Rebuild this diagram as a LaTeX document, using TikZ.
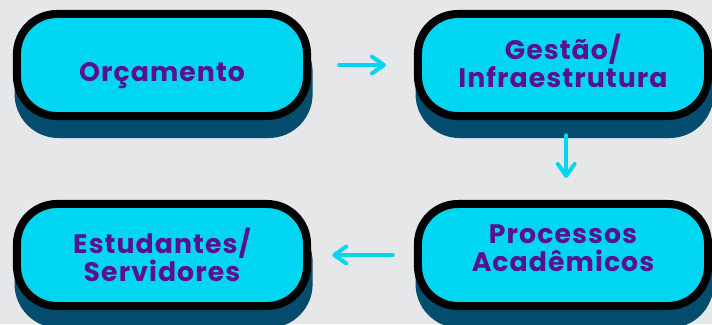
\documentclass[tikz,border=0pt]{standalone}
\usepackage{fontspec}
\newfontfamily\pillfont{Poppins}[LetterSpace=4]
\usepackage{tikz}
\usetikzlibrary{arrows.meta,shadows,calc}

\definecolor{bggray}{HTML}{E6E7E9}
\definecolor{pillcyan}{HTML}{00D6F1}
\definecolor{pillshadow}{HTML}{044D6E}
\definecolor{pilltext}{HTML}{5A118E}

\begin{document}
\begin{tikzpicture}[x=0.025cm,y=-0.025cm,
        pill/.style={draw=black, line width=0.2cm, fill=pillcyan, rounded corners=1cm,
            minimum width=7.25cm, minimum height=2.55cm,
            drop shadow={shadow xshift=0.04cm, shadow yshift=-0.45cm, fill=pillshadow,
                draw=pillshadow, line width=0.2cm, opacity=1}},
        pilltxt/.style={align=center, text=pilltext, inner sep=0pt,
            font=\pillfont\bfseries\fontsize{19pt}{20pt}\selectfont},
        flow/.style={draw=pillcyan, line width=0.1cm, line cap=round,
            -{Straight Barb[round, length=0.3cm, width=0.42cm]}}]

        \fill[bggray] (0,0) rectangle (712,324);
        \useasboundingbox (0,0) rectangle (712,324);

        \node[pill, label={[pilltxt, yshift=-0.27cm]center:Orçamento}] (orc) at (162,65) {};
        \node[pill, label={[pilltxt, yshift=0.1cm]center:Gestão/\\Infraestrutura}] (ges) at (563,65) {};
        \node[pill, label={[pilltxt, yshift=0.17cm]center:Processos\\Acadêmicos}] (pro) at (563,255) {};
        \node[pill, label={[pilltxt]center:Estudantes/\\Servidores}] (est) at (162,255) {};

        \draw[flow, shorten <=0.7cm, shorten >=0.7cm] (orc.east) -- (ges.west);
        \draw[flow, shorten <=0.38cm, shorten >=0.55cm] ([xshift=0.08cm]ges.south) -- ([xshift=0.08cm]pro.north);
        \draw[flow, shorten <=0.53cm, shorten >=0.53cm] (pro.west) -- (est.east);

    \end{tikzpicture}
\end{document}
